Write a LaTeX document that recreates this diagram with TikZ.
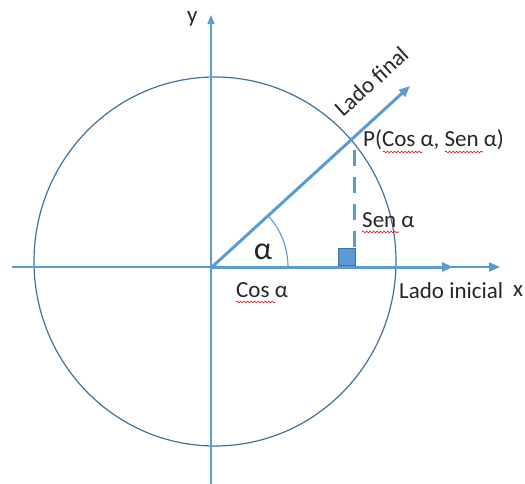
\documentclass[tikz,border=0pt]{standalone}
\usepackage{fontspec}
\setmainfont{Carlito}
\usetikzlibrary{arrows.meta,decorations.pathmorphing}
\definecolor{azul}{RGB}{91,155,213}
\definecolor{azulosc}{RGB}{65,113,156}
\definecolor{texto}{RGB}{38,38,38}

\begin{document}
\begin{tikzpicture}[x=1pt, y=1pt, >={Triangle[length=11pt,width=9pt]},
  eje/.style={azul, line width=1.3pt},
  lado/.style={azul, line width=3pt, ->},
  rotulo/.style={font=\fontsize{23}{26}\selectfont, text=texto, inner sep=0pt, anchor=base west},
  error/.style={red!90!black, line width=0.6pt, decorate,
    decoration={snake, amplitude=0.9pt, segment length=3.5pt}}]
\useasboundingbox (0,0) rectangle (525,-484);
% puntos
\coordinate (O) at (212,-267);
\coordinate (C) at (215,-261.5);
\coordinate (P) at (351,-140);
\coordinate (F) at (410,-86);
\coordinate (Xi) at (12,-267);
\coordinate (Xf) at (500,-267);
\coordinate (Yi) at (211,-484);
\coordinate (Yf) at (211,-15);
\coordinate (I) at (453,-267);
\coordinate (Dt) at (354,-150);
\coordinate (Db) at (354,-262);
% circulo
\draw[azulosc, line width=1.2pt] (C) ellipse [x radius=181, y radius=184.5];
% ejes
\draw[eje, line width=2pt, ->] (Xi) -- (Xf);
\draw[eje, ->, >={Triangle[length=9pt,width=7pt]}] (Yi) -- (Yf);
\node[rotulo] (x) at (513,-296) {x};
\node[rotulo] (y) at (187,-23) {y};
% lados
\draw[lado] (O) -- (I);
\draw[lado] (O) -- (F);
\node[rotulo, rotate=42.4] (lf) at (343,-118) {Lado final};
\node[rotulo] (li) at (399,-298) {Lado inicial};
% seno y angulo recto
\draw[azul, line width=3pt, dash pattern=on 16pt off 11pt] (Dt) -- (Db);
\draw[azulosc, fill=azul, line width=0.8pt] (338,-265) rectangle (355,-248);
% angulo
\draw[azul, line width=1.1pt] (O) ++(76,0) arc (0:42.4:76);
\node[font=\fontsize{32}{36}\selectfont, text=texto, inner sep=0pt, anchor=base] (alfa) at (263,-259) {α};
% textos
\node[rotulo] (cos) at (236,-297) {Cos α};
\node[rotulo] (sen) at (362,-227) {Sen α};
\node[rotulo] (pt) at (363,-147) {P(Cos α, Sen α)};
% subrayado
\draw[error] (236,-302) -- (275,-302);
\draw[error] (362,-232) -- (399,-232);
\draw[error] (383,-152) -- (422,-152);
\draw[error] (445,-152) -- (483,-152);
\end{tikzpicture}
\end{document}
